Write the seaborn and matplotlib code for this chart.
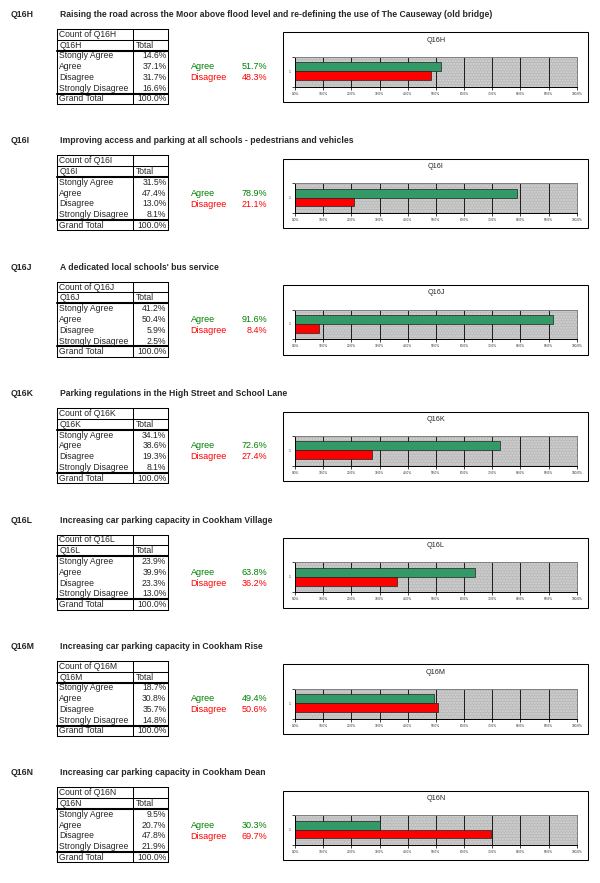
import pandas as pd
import seaborn as sns
import matplotlib.pyplot as plt
from matplotlib.lines import Line2D
from matplotlib.patches import Rectangle

# --- data ---
codes = ['Q16H', 'Q16I', 'Q16J', 'Q16K', 'Q16L', 'Q16M', 'Q16N']
questions = [
    'Raising the road across the Moor above flood level and re-defining the use of The Causeway (old bridge)',
    'Improving access and parking at all schools - pedestrians and vehicles',
    "A dedicated local schools' bus service",
    'Parking regulations in the High Street and School Lane',
    'Increasing car parking capacity in Cookham Village',
    'Increasing car parking capacity in Cookham Rise',
    'Increasing car parking capacity in Cookham Dean',
]
row_labels = ['Stongly Agree', 'Agree', 'Disagree', 'Strongly Disagree']
strongly_agree = [14.6, 31.5, 41.2, 34.1, 23.9, 18.7, 9.5]
agree = [37.1, 47.4, 50.4, 38.6, 39.9, 30.8, 20.7]
disagree = [31.7, 13.0, 5.9, 19.3, 23.3, 35.7, 47.8]
strongly_disagree = [16.6, 8.1, 2.5, 8.1, 13.0, 14.8, 21.9]
agree_total = [51.7, 78.9, 91.6, 72.6, 63.8, 49.4, 30.3]
disagree_total = [48.3, 21.1, 8.4, 27.4, 36.2, 50.6, 69.7]
x_ticks = [0, 10, 20, 30, 40, 50, 60, 70, 80, 90, 100]
x_tick_labels = ['0.0%', '10.0%', '20.0%', '30.0%', '40.0%', '50.0%',
                 '60.0%', '70.0%', '80.0%', '90.0%', '100.0%']

sns.set_theme(style='white')
plt.rcParams['font.family'] = ['Liberation Sans', 'DejaVu Sans']

W, H = 600, 883
fig = plt.figure(figsize=(6, 8.83), dpi=100)
palette = {'Agree': '#339966', 'Disagree': '#ff0000'}


def fx(px):
    return px / W


def fy(py):
    return 1 - py / H


def hline(x0, x1, y, lw=0.75):
    fig.add_artist(Line2D([fx(x0), fx(x1)], [fy(y), fy(y)],
                          transform=fig.transFigure, color='black', lw=lw))


def vline(x, y0, y1, lw=0.75):
    fig.add_artist(Line2D([fx(x), fx(x)], [fy(y0), fy(y1)],
                          transform=fig.transFigure, color='black', lw=lw))


for i, code in enumerate(codes):
    top = 14.5 + i * 126.4

    # heading
    fig.text(fx(11), fy(top), code, fontsize=6.3, weight='bold', va='center')
    fig.text(fx(60), fy(top), questions[i], fontsize=6.2, weight='bold', va='center')

    # pivot table
    tl, td, tr = 57.3, 133.3, 168.3
    hline(tl, tr, top + 14.5)
    hline(tl, tr, top + 25)
    hline(tl, tr, top + 36, lw=1.5)
    hline(tl, tr, top + 79, lw=1.5)
    hline(tl, tr, top + 89.5)
    for xx in (tl, td, tr):
        vline(xx, top + 14.5, top + 89.5)

    fs = 6.2
    fig.text(fx(tl + 2), fy(top + 19.9), f'Count of {code}', fontsize=fs, va='center')
    fig.text(fx(tl + 2), fy(top + 30.6), code, fontsize=fs, va='center')
    fig.text(fx(td + 2), fy(top + 30.6), 'Total', fontsize=fs, va='center')
    vals = [strongly_agree[i], agree[i], disagree[i], strongly_disagree[i]]
    for j, (lab, v) in enumerate(zip(row_labels, vals)):
        yy = top + 41.5 + j * 10.75
        fig.text(fx(tl + 2), fy(yy), lab, fontsize=fs, va='center')
        fig.text(fx(tr - 2), fy(yy), f'{v:.1f}%', fontsize=fs, va='center', ha='right')
    fig.text(fx(tl + 2), fy(top + 84.4), 'Grand Total', fontsize=fs, va='center')
    fig.text(fx(tr - 2), fy(top + 84.4), '100.0%', fontsize=fs, va='center', ha='right')

    # agree / disagree summary
    fs2 = 6.5
    fig.text(fx(190.5), fy(top + 52.2), 'Agree', fontsize=fs2, va='center', color='#008000')
    fig.text(fx(267.5), fy(top + 52.2), f'{agree_total[i]:.1f}%', fontsize=fs2,
             va='center', ha='right', color='#008000')
    fig.text(fx(190.5), fy(top + 63.2), 'Disagree', fontsize=fs2, va='center', color='#ff0000')
    fig.text(fx(267.5), fy(top + 63.2), f'{disagree_total[i]:.1f}%', fontsize=fs2,
             va='center', ha='right', color='#ff0000')

    # chart frame and title
    fig.add_artist(Rectangle((fx(283), fy(top + 87.5)), (588 - 283) / W, (87.5 - 17.8) / H,
                             transform=fig.transFigure, fill=False, edgecolor='black', lw=0.75))
    fig.text(fx(436), fy(top + 25.5), code, fontsize=5.2, ha='center', va='center')

    ax = fig.add_axes([fx(295), fy(top + 72.2), (576.7 - 295) / W, 30 / H])
    ax.set_facecolor('#c2c2c2')
    ax.add_patch(Rectangle((0, 0), 1, 1, transform=ax.transAxes, facecolor='#bababa',
                           hatch='......', edgecolor='#d6d6d6', lw=0, zorder=0.1))

    df = pd.DataFrame({'response': ['Agree', 'Disagree'],
                       'pct': [agree_total[i], disagree_total[i]]})
    sns.barplot(data=df, x='pct', y='response', hue='response', palette=palette,
                orient='h', width=1.0, edgecolor='#222222', linewidth=0.5,
                legend=False, saturation=1, ax=ax)

    ax.set_xlim(0, 100)
    ax.set_ylim(2.26, -1.13)
    ax.set_xlabel('')
    ax.set_ylabel('')
    ax.set_xticks(x_ticks)
    ax.set_xticklabels(x_tick_labels)
    ax.set_yticks([0.5])
    ax.set_yticklabels(['1'])
    ax.set_yticks([2.26, -1.13], minor=True)
    ax.set_axisbelow(True)
    ax.xaxis.grid(True, color='black', lw=0.6)
    ax.tick_params(axis='x', bottom=True, direction='out', length=2, width=0.6,
                   labelsize=2.3, pad=1.5)
    ax.tick_params(axis='y', which='major', left=True, length=0, labelsize=2.3, pad=3)
    ax.tick_params(axis='y', which='minor', left=True, direction='out', length=2, width=0.6)
    for side in ('left', 'bottom'):
        ax.spines[side].set_color('black')
        ax.spines[side].set_linewidth(0.7)
    for side in ('top', 'right'):
        ax.spines[side].set_color('#808080')
        ax.spines[side].set_linewidth(0.7)

fig.savefig('out.png', dpi=100)
